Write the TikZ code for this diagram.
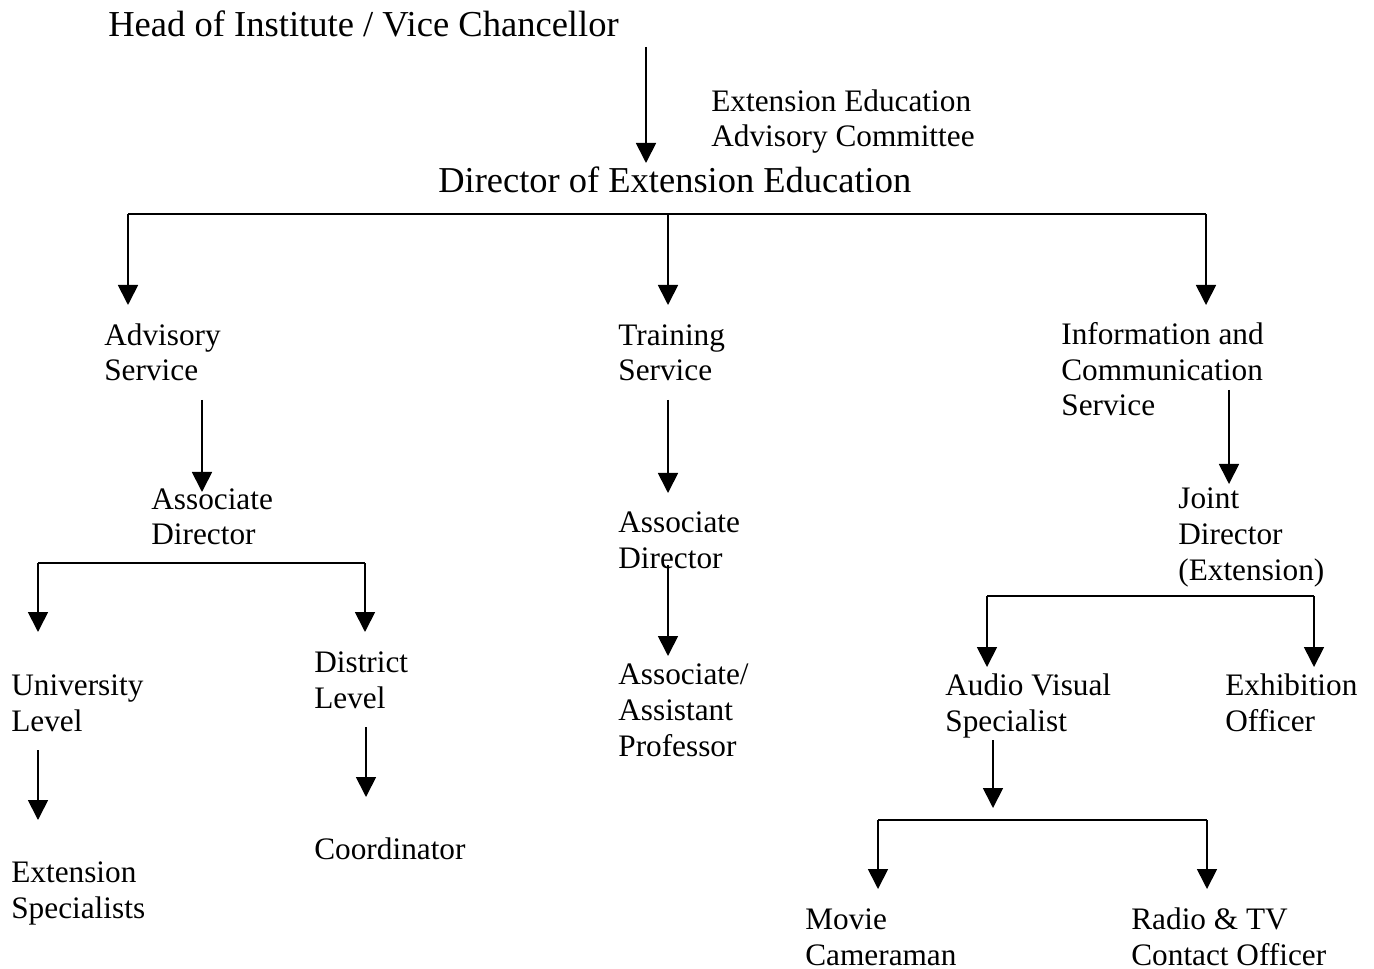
\documentclass[tikz,border=0pt]{standalone}
\usepackage{fontspec}
\setmainfont{Liberation Serif}
\usetikzlibrary{arrows.meta}

\tikzset{
	txt/.style={anchor=base west, inner sep=0pt, align=left, font=\fontsize{17.8}{20.4}\selectfont},
	arr/.style={line width=1pt, -{Triangle[length=0.4cm,width=0.4cm]}},
	bar/.style={line width=1pt}
}

\begin{document}
\begin{tikzpicture}
	\useasboundingbox (0,0) rectangle (27.48,-19.38);

	% top of the chart
	\node[txt, font=\fontsize{20.8}{22}\selectfont] (head) at (2.16,-0.74) {Head of Institute / Vice Chancellor};
	\node[txt] (committee) at (14.22,-2.94) {Extension Education\\Advisory Committee};
	\node[txt, font=\fontsize{20.75}{23}\selectfont] (director) at (8.76,-3.86) {Director of Extension Education};

	\coordinate (h1) at (12.92,-0.94);
	\coordinate (h2) at (12.92,-3.26);
	\draw[arr] (h1) -- (h2);

	% three services
	\node[txt] (advisory) at (2.08,-7.62) {Advisory\\Service};
	\node[txt] (training) at (12.36,-7.62) {Training\\Service};
	\node[txt] (info) at (21.22,-8.32) {Information and\\Communication\\Service};

	\coordinate (bl) at (2.56,-4.28);
	\coordinate (bm) at (13.36,-4.28);
	\coordinate (br) at (24.12,-4.28);
	\draw[bar] (bl) -- (br);
	\draw[arr] (bl) -- ++(0,-1.82);
	\draw[arr] (bm) -- ++(0,-1.82);
	\draw[arr] (br) -- ++(0,-1.82);

		% advisory branch
		\node[txt] (advdir) at (3.02,-10.9) {Associate\\Director};
		\coordinate (a1) at (4.04,-8.0);
		\coordinate (a2) at (4.04,-9.84);
		\draw[arr] (a1) -- (a2);

		\coordinate (al) at (0.76,-11.26);
		\coordinate (ar) at (7.30,-11.26);
		\draw[bar] (al) -- (ar);
		\draw[arr] (al) -- ++(0,-1.38);
		\draw[arr] (ar) -- ++(0,-1.38);

			\node[txt] (univ) at (0.22,-14.62) {University\\Level};
			\node[txt] (district) at (6.28,-14.16) {District\\Level};

			\coordinate (u1) at (0.76,-15.0);
			\coordinate (u2) at (0.76,-16.4);
			\draw[arr] (u1) -- (u2);
			\node[txt] (specialists) at (0.22,-18.36) {Extension\\Specialists};

			\coordinate (d1) at (7.32,-14.54);
			\coordinate (d2) at (7.32,-15.94);
			\draw[arr] (d1) -- (d2);
			\node[txt] (coord) at (6.28,-17.18) {Coordinator};

		% training branch
		\node[txt] (traindir) at (12.36,-11.36) {Associate\\Director};
		\coordinate (t1) at (13.36,-8.0);
		\coordinate (t2) at (13.36,-9.86);
		\draw[arr] (t1) -- (t2);

		\coordinate (t3) at (13.36,-11.3);
		\coordinate (t4) at (13.36,-13.12);
		\draw[arr] (t3) -- (t4);
		\node[txt] (prof) at (12.36,-15.12) {Associate/\\Assistant\\Professor};

		% information branch
		\node[txt] (joint) at (23.56,-11.6) {Joint\\Director\\(Extension)};
		\coordinate (i1) at (24.58,-7.8);
		\coordinate (i2) at (24.58,-9.68);
		\draw[arr] (i1) -- (i2);

		\coordinate (jl) at (19.74,-11.92);
		\coordinate (jr) at (26.28,-11.92);
		\draw[bar] (jl) -- (jr);
		\draw[arr] (jl) -- ++(0,-1.42);
		\draw[arr] (jr) -- ++(0,-1.42);

			\node[txt] (av) at (18.9,-14.62) {Audio Visual\\Specialist};
			\node[txt] (exhib) at (24.5,-14.62) {Exhibition\\Officer};

			\coordinate (v1) at (19.86,-14.8);
			\coordinate (v2) at (19.86,-16.16);
			\draw[arr] (v1) -- (v2);

			\coordinate (vl) at (17.56,-16.4);
			\coordinate (vr) at (24.14,-16.4);
			\draw[bar] (vl) -- (vr);
			\draw[arr] (vl) -- ++(0,-1.38);
			\draw[arr] (vr) -- ++(0,-1.38);

				\node[txt] (movie) at (16.1,-19.3) {Movie\\Cameraman};
				\node[txt] (radio) at (22.62,-19.3) {Radio \& TV\\Contact Officer};

\end{tikzpicture}
\end{document}
